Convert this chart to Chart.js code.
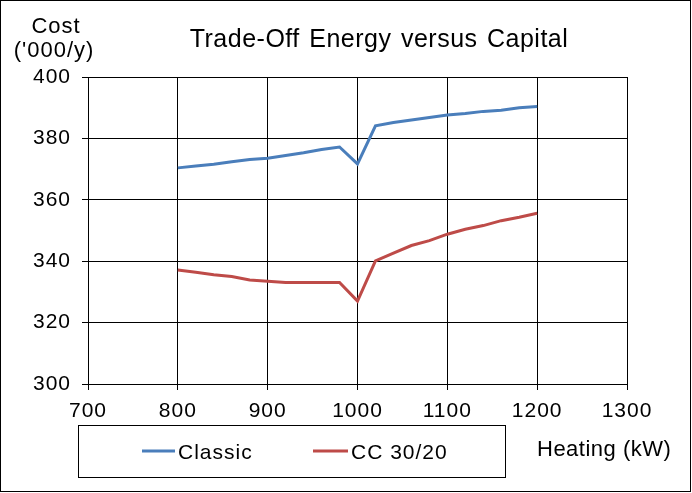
<!DOCTYPE html>
<html>
<head>
<meta charset="utf-8">
<script src="https://cdn.jsdelivr.net/npm/chart.js"></script>
<style>
  html, body { margin: 0; padding: 0; background: #fff; }
  #wrap { width: 692px; height: 493px; }
</style>
</head>
<body>
<div id="wrap"><canvas id="c" width="692" height="493"></canvas></div>
<script>
const heating = [800, 820, 840, 860, 880, 900, 920, 940, 960, 980, 1000, 1020, 1040, 1060, 1080, 1100, 1120, 1140, 1160, 1180, 1200];
const classic = [370.4, 371.0, 371.6, 372.4, 373.1, 373.5, 374.4, 375.3, 376.4, 377.2, 371.7, 384.1, 385.2, 386.0, 386.8, 387.6, 388.1, 388.8, 389.2, 390.0, 390.4];
const cc3020 = [337.1, 336.4, 335.6, 335.0, 333.9, 333.5, 333.1, 333.1, 333.1, 333.1, 327.0, 340.1, 342.6, 345.1, 346.7, 348.8, 350.4, 351.6, 353.2, 354.3, 355.6];
const seriesNames = ['Classic', 'CC 30/20'];
const xTicks = [700, 800, 900, 1000, 1100, 1200, 1300];
const yTicks = [300, 320, 340, 360, 380, 400];
const titleText = 'Trade-Off Energy versus Capital';
const yTitle = ['Cost', "('000/y)"];
const xTitle = 'Heating (kW)';

const FONT = "'Liberation Sans', Arial, sans-serif";
const colors = ['#4A7EBB', '#BE4B48'];

const decor = {
  id: 'decor',
  beforeDraw(chart) {
    chart.ctx.letterSpacing = '1px';
  },
  afterDraw(chart) {
    const ctx = chart.ctx;
    ctx.save();
    // outer border
    ctx.strokeStyle = '#000';
    ctx.lineWidth = 1;
    ctx.strokeRect(0.5, 0.5, 690, 491);
    ctx.fillStyle = '#000';
    // title
    ctx.font = '25px ' + FONT;
    ctx.letterSpacing = '0.5px';
    ctx.wordSpacing = '2px';
    ctx.textAlign = 'center';
    ctx.textBaseline = 'alphabetic';
    ctx.fillText(titleText, 379, 47);
    ctx.wordSpacing = '0px';
    // y title
    ctx.letterSpacing = '1px';
    ctx.font = '22px ' + FONT;
    ctx.fillText(yTitle[0], 56, 33);
    ctx.fillText(yTitle[1], 54, 57);
    // x title
    ctx.letterSpacing = '0.5px';
    ctx.font = '22px ' + FONT;
    ctx.textAlign = 'left';
    ctx.fillText(xTitle, 537, 456);
    // legend box
    ctx.strokeRect(78.5, 425.5, 427, 52);
    const items = [
      { x0: 142, x1: 175, tx: 178 },
      { x0: 313, x1: 348, tx: 351 }
    ];
    chart.data.datasets.forEach((ds, i) => {
      const it = items[i];
      ctx.strokeStyle = ds.borderColor;
      ctx.lineWidth = 3;
      ctx.beginPath();
      ctx.moveTo(it.x0, 451);
      ctx.lineTo(it.x1, 451);
      ctx.stroke();
      ctx.fillStyle = '#000';
      ctx.font = '21px ' + FONT;
      ctx.letterSpacing = '1px';
      ctx.textAlign = 'left';
      ctx.textBaseline = 'alphabetic';
      ctx.fillText(ds.label, it.tx, 459);
    });
    ctx.restore();
  }
};

new Chart(document.getElementById('c'), {
  type: 'line',
  data: {
    datasets: [
      { label: seriesNames[0], data: heating.map((h, i) => ({ x: h, y: classic[i] })), borderColor: colors[0], backgroundColor: colors[0], borderWidth: 3, pointRadius: 0, tension: 0, fill: false },
      { label: seriesNames[1], data: heating.map((h, i) => ({ x: h, y: cc3020[i] })), borderColor: colors[1], backgroundColor: colors[1], borderWidth: 3, pointRadius: 0, tension: 0, fill: false }
    ]
  },
  options: {
    responsive: false,
    animation: false,
    layout: { padding: { top: 77, right: 65, left: 0, bottom: 0 } },
    plugins: { legend: { display: false }, title: { display: false }, tooltip: { enabled: false } },
    scales: {
      x: {
        type: 'linear', min: 700, max: 1300,
        afterBuildTicks(s) { s.ticks = xTicks.map(v => ({ value: v })); },
        afterFit(s) { s.height = 109; },
        ticks: { color: '#000', font: { size: 21, family: FONT }, padding: 9, maxRotation: 0, autoSkip: false, callback: v => String(v) },
        grid: { color: '#000', lineWidth: 1, tickLength: 6 },
        border: { color: '#000', width: 1 }
      },
      y: {
        type: 'linear', min: 300, max: 400,
        afterBuildTicks(s) { s.ticks = yTicks.map(v => ({ value: v })); },
        afterFit(s) { s.width = 88; },
        ticks: { color: '#000', font: { size: 21, family: FONT }, padding: 11, autoSkip: false, callback: v => String(v) },
        grid: { color: '#000', lineWidth: 1, tickLength: 6 },
        border: { color: '#000', width: 1 }
      }
    }
  },
  plugins: [decor]
});
</script>
</body>
</html>
